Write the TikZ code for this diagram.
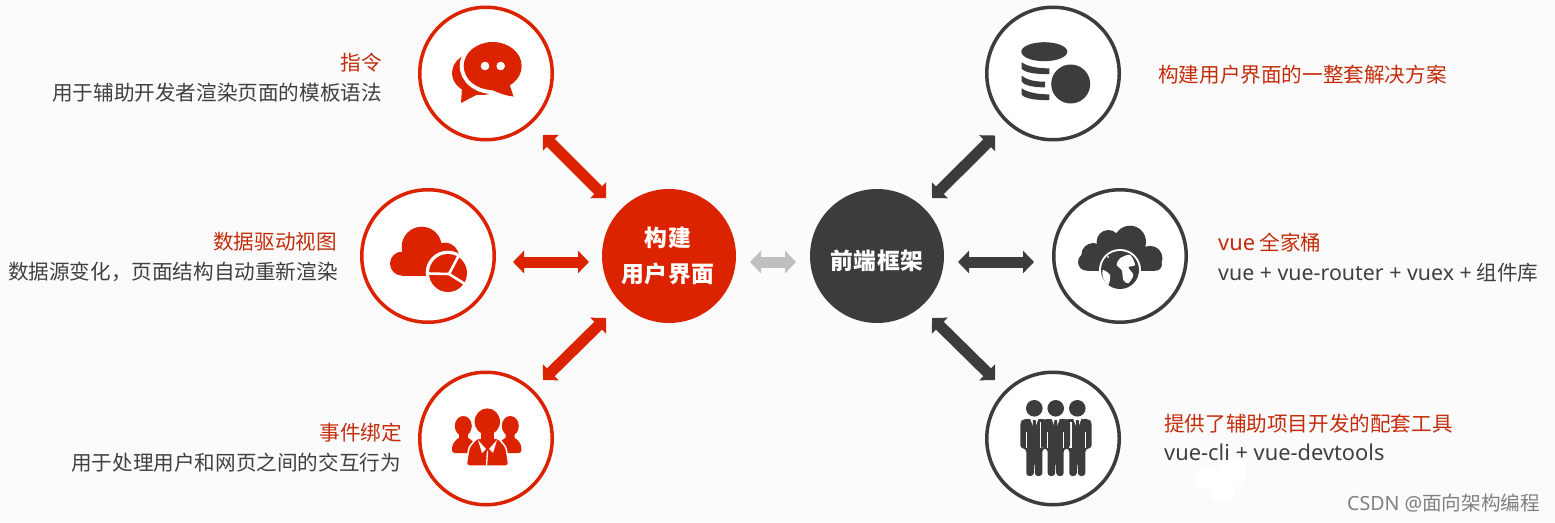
\documentclass[tikz,border=0pt]{standalone}
\usepackage{fontspec}
\setmainfont{Noto Sans CJK SC}
\newfontfamily\corefont[LetterSpace=3]{Noto Sans CJK SC}
\newfontfamily\latfont[Scale=1.06]{Noto Sans}
\newfontfamily\latmidfont[Scale=1.037]{Noto Sans}
\newfontfamily\markfont{Noto Sans}
\usetikzlibrary{arrows.meta}
\definecolor{bgc}{HTML}{FBFBFB}
\definecolor{redc}{HTML}{DC2300}
\definecolor{darkc}{HTML}{3C3C3C}
\definecolor{grayc}{HTML}{BFBFBF}
\definecolor{redt}{HTML}{C42D0C}
\definecolor{textc}{HTML}{404040}
\tikzset{
  ring/.style={circle,draw=#1,line width=3.5pt,minimum size=132.5pt,inner sep=0pt,outer sep=0pt,fill=white},
  core/.style={circle,fill=#1,minimum size=134pt,inner sep=0pt,outer sep=0pt},
  coretext/.style={text=white,inner sep=0pt,font=\corefont\bfseries\fontsize{22.8}{26}\selectfont},
  dbl/.style={line width=11pt,draw=#1,fill=#1,{Triangle[width=22pt,length=11pt]}-{Triangle[width=22pt,length=11pt]}},
  redlabel/.style={text=redt,inner sep=0pt,font=\fontsize{20.6}{24}\selectfont},
  darklabel/.style={text=textc,inner sep=0pt,font=\fontsize{20.6}{24}\selectfont}
}
\begin{document}
\begin{tikzpicture}[x=1pt,y=-1pt]
\useasboundingbox (0,0) rectangle (1555,522);
\fill[bgc] (0,0) rectangle (1555,522);

% faint blob
\fill[white] (1207,478) circle (12) (1232,472) circle (15) (1222,490) circle (13);

% circles
\node[ring=redc] (c1) at (486,73.5) {};
\node[ring=redc] (c2) at (428,256) {};
\node[ring=redc] (c3) at (486,438.5) {};
\node[ring=darkc] (d1) at (1053,73.5) {};
\node[ring=darkc] (d2) at (1120,256) {};
\node[ring=darkc] (d3) at (1053,438.5) {};
\node[core=redc] (ui) at (669,256) {};
\node[core=darkc] (fw) at (877,256) {};
\node[coretext] (ui1) at (668,238) {构建};
\node[coretext] (ui2) at (668,274) {用户界面};
\node[coretext] (fw1) at (877,261) {前端框架};

% connectors
\draw[dbl=redc] ([shift={(57,61.5)}]c1.center) -- ([shift={(-63,-58)}]ui.center);
\draw[dbl=redc] ([shift={(85,6)}]c2.center) -- ([shift={(-80,6)}]ui.center);
\draw[dbl=redc] ([shift={(57,-58.5)}]c3.center) -- ([shift={(-63,62)}]ui.center);
\draw[dbl=grayc] ([shift={(81,6)}]ui.center) -- ([shift={(-81,6)}]fw.center);
\draw[dbl=darkc] ([shift={(55,-58)}]fw.center) -- ([shift={(-58,62)}]d1.center);
\draw[dbl=darkc] ([shift={(81,6)}]fw.center) -- ([shift={(-86,6)}]d2.center);
\draw[dbl=darkc] ([shift={(55,62)}]fw.center) -- ([shift={(-58,-58.5)}]d3.center);

% chat icon
\fill[redc] (481,73) ellipse [x radius=29,y radius=22];
\fill[redc] (462,88) -- (461,103) -- (482,92) -- cycle;
\fill[white] (492.7,66) ellipse [x radius=33,y radius=28];
\fill[white] (500,85) -- (520,98) -- (498,100) -- cycle;
\fill[redc] (492.7,66) ellipse [x radius=29,y radius=24];
\fill[redc] (500,85) -- (513.5,96.5) .. controls (507,96) and (500,93.5) .. (492,90) -- cycle;
\fill[redc] (508,80) -- (513.5,96.5) -- (500,88) -- cycle;
\fill[white] (485,66) circle (4.3) (500.7,66) circle (4.3);

% cloud + pie icon
\fill[redc] (421.7,246.7) circle (20) (402,263.6) circle (12) (445,256.7) circle (14);
\fill[redc] (402,251.6) rectangle (445,275.7);
\fill[white] (447.7,272.7) circle (22);
\fill[redc] (448,273) circle (19);
\draw[white,line width=2.6pt] (449,274) -- (459,255) (449,274) -- (428,273.5) (449,274) -- (465,284);

% people icon
\fill[redc] (463.3,426) ellipse [x radius=8.5,y radius=10] (510.3,426) ellipse [x radius=8.5,y radius=10];
\fill[redc] (459,432) rectangle (468,440) (505.5,432) rectangle (514.5,440);
\fill[redc,rounded corners=3pt] (451.7,453) -- (452.5,444) -- (459,437) -- (468,437) -- (476,445) -- (472,453) -- cycle;
\fill[redc,rounded corners=3pt] (521.7,453) -- (521,444) -- (514.5,437) -- (505.5,437) -- (497.5,445) -- (501.5,453) -- cycle;
\fill[redc,draw=white,line width=1.5pt,rounded corners=3pt] (466,466) -- (469,447) -- (477,438) -- (498,438) -- (506,447) -- (509,466) -- cycle;
\fill[redc] (487.3,421.7) ellipse [x radius=12.7,y radius=13.3];
\fill[redc] (481,430) rectangle (494,441);
\fill[white] (478,440) -- (486,449) -- (482,453) -- cycle (497,440) -- (489,449) -- (493,453) -- cycle;
\draw[white,line width=1.3pt] (487.5,451) -- (486.5,466);

% database icon
\fill[darkc] (1044.3,51.7) ellipse [x radius=23,y radius=9.5];
\fill[darkc] (1021.7,62.3) .. controls (1028,67) and (1040,68.5) .. (1049.3,68.3) -- (1049.3,74) .. controls (1036,74.5) and (1024,72.5) .. (1021.7,68.5) -- cycle;
\fill[darkc] (1021.7,75.7) .. controls (1028,80.5) and (1036,81.7) .. (1045,81.7) -- (1045,87.3) .. controls (1034,87.5) and (1024,85.5) .. (1021.7,81.5) -- cycle;
\fill[darkc] (1021.7,88.3) .. controls (1028,93) and (1040,94.5) .. (1049.3,94.3) -- (1049.3,100) .. controls (1036,100.5) and (1024,98.5) .. (1021.7,94.5) -- cycle;
\fill[darkc] (1070.7,84) circle (19.5);

% globe cloud icon
\fill[darkc] (1130,241.7) circle (16) (1108.3,241.7) circle (11.7) (1093.3,255) circle (12) (1086.7,262) circle (8.7) (1150,258.3) circle (12.5) (1155.7,264.5) circle (6.2);
\fill[darkc] (1087,255) rectangle (1155,270.7);
\fill[darkc] (1100,240) rectangle (1140,260);
\fill[white] (1120,270) circle (21);
\fill[darkc] (1120,270) circle (19);
\fill[white] plot[smooth cycle,tension=.5] coordinates {(1120,258.3) (1130,255) (1135,265) (1128.3,267.3) (1133.3,275) (1128.3,283.3) (1123.3,280) (1121.7,270) (1116.7,265)};
\fill[white] plot[smooth cycle,tension=.5] coordinates {(1102.7,270) (1110,275) (1108.3,285) (1103.3,278.3)};
\fill[white] (1108,257) circle (1);

% men icon
\foreach \cx/\hw in {1034.3/14,1077.3/14.4,1055.7/14.3}{
  \fill[darkc] (\cx,408.3) circle (8.3);
  \draw[bgc,line width=1.6pt] (\cx-\hw-.8,422) -- (\cx-\hw-.8,448) (\cx+\hw+.8,422) -- (\cx+\hw+.8,448);
  \path[fill=darkc,rounded corners=3pt]
    (\cx-\hw,422) -- (\cx-\hw+3,419) -- (\cx+\hw-3,419) -- (\cx+\hw,422) -- (\cx+\hw,448) -- (\cx+8,449) -- (\cx+8,476) -- (\cx+.6,476) -- (\cx+.3,462) -- (\cx-.3,462) -- (\cx-.6,476) -- (\cx-8,476) -- (\cx-8,449) -- (\cx-\hw,448) -- cycle;
  \fill[bgc] (\cx-4,419) -- (\cx+4,419) -- (\cx,430) -- cycle;
  \fill[darkc] (\cx-1.4,420) -- (\cx+1.4,420) -- (\cx+1.8,430) -- (\cx,433) -- (\cx-1.8,430) -- cycle;
  \draw[bgc,line width=.9pt] (\cx-8,432) -- (\cx-8,448) (\cx+8,432) -- (\cx+8,448);
}

% labels
\node[redlabel,anchor=base east] (t1a) at (382,70) {指令};
\node[darklabel,anchor=base east] (t1b) at (382,100) {用于辅助开发者渲染页面的模板语法};
\node[redlabel,anchor=base east] (t2a) at (337,249) {数据驱动视图};
\node[darklabel,anchor=base east] (t2b) at (338,279) {数据源变化，页面结构自动重新渲染};
\node[redlabel,anchor=base east] (t3a) at (402,440) {事件绑定};
\node[darklabel,anchor=base east] (t3b) at (401,470) {用于处理用户和网页之间的交互行为};
\node[redlabel,anchor=base west] (r1) at (1158,82) {构建用户界面的一整套解决方案};
\node[redlabel,anchor=base west] (r2a) at (1218,250) {{\latfont vue} 全家桶};
\node[darklabel,anchor=base west] (r2b) at (1218,280) {{\latmidfont vue + vue-router + vuex +} 组件库};
\node[redlabel,anchor=base west] (r3a) at (1164,431) {提供了辅助项目开发的配套工具};
\node[darklabel,anchor=base west] (r3b) at (1164,460) {{\latfont vue-cli + vue-devtools}};
\node[text=black!50,inner sep=0pt,anchor=base east,font=\fontsize{19.6}{22}\selectfont] (wm) at (1540,510) {{\markfont CSDN @}面向架构编程};
\end{tikzpicture}
\end{document}
